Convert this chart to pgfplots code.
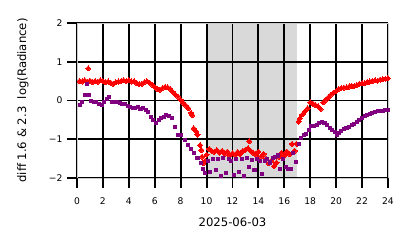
\documentclass[border=0pt]{standalone}
\usepackage{fontspec}
\setmainfont{DejaVu Sans}
\usepackage{pgfplots}
\pgfplotsset{compat=1.18}
\definecolor{mplpurple}{RGB}{128,0,128}
\pgfplotstableread{
h v
0.2 0.50
0.4 0.49
0.6 0.52
0.8 0.48
0.87 0.83
1.0 0.51
1.2 0.47
1.4 0.50
1.6 0.48
1.8 0.52
2.0 0.50
2.2 0.47
2.4 0.49
2.6 0.46
2.8 0.43
3.0 0.47
3.2 0.49
3.4 0.50
3.6 0.52
3.8 0.50
4.0 0.52
4.2 0.49
4.4 0.50
4.6 0.45
4.8 0.42
5.0 0.43
5.2 0.47
5.4 0.50
5.6 0.46
5.8 0.41
6.0 0.35
6.2 0.30
6.4 0.28
6.6 0.32
6.8 0.35
7.0 0.34
7.2 0.30
7.4 0.22
7.6 0.15
7.8 0.10
8.0 0.02
8.2 -0.06
8.4 -0.13
8.6 -0.20
8.8 -0.32
8.9 -0.38
9.0 -0.72
9.2 -0.80
9.3 -0.88
9.5 -1.15
9.6 -1.28
9.65 -1.45
9.75 -1.62
9.9 -1.55
10.0 -1.40
10.2 -1.25
10.4 -1.30
10.6 -1.33
10.8 -1.28
11.0 -1.35
11.2 -1.30
11.4 -1.38
11.6 -1.32
11.8 -1.42
12.0 -1.36
12.2 -1.40
12.4 -1.33
12.6 -1.38
12.8 -1.30
13.0 -1.27
13.2 -1.23
13.3 -1.05
13.4 -1.30
13.6 -1.35
13.8 -1.40
14.0 -1.32
14.2 -1.45
14.4 -1.38
14.6 -1.50
14.8 -1.62
15.0 -1.55
15.2 -1.70
15.4 -1.60
15.6 -1.45
15.8 -1.35
16.0 -1.42
16.2 -1.32
16.4 -1.38
16.6 -1.12
16.8 -1.30
16.95 -1.12
17.1 -0.55
17.2 -0.46
17.4 -0.36
17.6 -0.28
17.8 -0.20
18.0 -0.05
18.2 -0.08
18.4 -0.12
18.6 -0.15
18.8 -0.22
19.0 -0.05
19.2 0.02
19.4 0.08
19.6 0.15
19.8 0.20
20.0 0.24
20.2 0.30
20.4 0.32
20.6 0.33
20.8 0.34
21.0 0.36
21.2 0.38
21.4 0.37
21.6 0.40
21.8 0.43
22.0 0.45
22.2 0.44
22.4 0.47
22.6 0.49
22.8 0.50
23.0 0.52
23.2 0.51
23.4 0.54
23.6 0.55
23.8 0.56
24.0 0.57
}\redtab
\pgfplotstableread{
h v
0.2 -0.12
0.4 -0.05
0.6 0.15
0.8 0.42
0.9 0.14
1.1 -0.02
1.3 -0.03
1.5 -0.05
1.7 -0.08
1.9 -0.12
2.1 -0.05
2.3 0.05
2.5 0.08
2.7 -0.03
2.9 -0.04
3.1 -0.03
3.3 -0.06
3.5 -0.10
3.7 -0.08
3.9 -0.15
4.1 -0.18
4.3 -0.19
4.5 -0.20
4.7 -0.18
4.9 -0.22
5.1 -0.20
5.3 -0.24
5.5 -0.30
5.7 -0.42
5.9 -0.50
6.1 -0.57
6.3 -0.50
6.5 -0.46
6.7 -0.42
6.9 -0.38
7.1 -0.40
7.3 -0.46
7.55 -0.68
7.8 -0.88
8.05 -0.90
8.3 -1.02
8.55 -1.15
8.8 -1.25
9.05 -1.35
9.3 -1.49
9.55 -1.62
9.75 -1.78
9.9 -1.88
10.1 -1.55
10.3 -1.85
10.5 -1.50
10.7 -1.80
10.9 -1.52
11.1 -1.95
11.3 -1.48
11.5 -1.86
11.7 -1.50
11.9 -1.55
12.1 -1.92
12.3 -1.52
12.5 -1.85
12.7 -1.50
12.9 -1.95
13.1 -1.48
13.3 -1.72
13.5 -1.53
13.7 -1.80
13.9 -1.50
14.1 -1.55
14.3 -1.90
14.5 -1.55
14.7 -1.52
14.9 -1.60
15.1 -1.48
15.3 -1.45
15.5 -1.42
15.7 -1.78
15.9 -1.50
16.1 -1.72
16.3 -1.78
16.5 -1.76
16.7 -1.35
16.9 -1.58
17.1 -1.12
17.3 -0.98
17.5 -0.90
17.7 -0.86
17.9 -0.75
18.1 -0.66
18.3 -0.67
18.5 -0.63
18.7 -0.58
18.9 -0.55
19.1 -0.57
19.3 -0.64
19.5 -0.70
19.7 -0.75
19.9 -0.82
20.05 -0.90
20.2 -0.83
20.4 -0.78
20.6 -0.74
20.8 -0.70
21.0 -0.68
21.2 -0.63
21.4 -0.60
21.6 -0.55
21.8 -0.50
22.0 -0.45
22.2 -0.41
22.4 -0.38
22.6 -0.36
22.8 -0.33
23.0 -0.30
23.2 -0.28
23.4 -0.27
23.6 -0.26
23.8 -0.25
24.0 -0.24
}\purptab
\begin{document}
\begin{tikzpicture}
\begin{axis}[
  name=ax,
  set layers,
  scale only axis, width=223.9pt, height=111.6pt,
  xmin=0, xmax=24, ymin=-2, ymax=2,
  xtick={0,2,...,24}, ytick={-2,-1,0,1,2},
  yticklabels={−2,−1,0,1,2},
  grid=major, major grid style={black, line width=1.4pt},
  tick pos=left,
  tick align=outside, major tick length=7pt,
  tick style={black, line width=1.4pt},
  axis line style={gray!40, line width=0.6pt},
  ticklabel style={font=\fontsize{6.6}{7}\selectfont},
  xticklabel style={yshift=-3.5pt},
  /pgf/number format/assume math mode=true,
  xlabel={2025-06-03},
  ylabel={diff 1.6 \& 2.3\ \ log(Radiance)},
  label style={font=\fontsize{8.4}{10}\selectfont},
  xlabel style={at={(axis description cs:0.5,0)}, anchor=center, yshift=-31.7pt},
  ylabel style={at={(axis description cs:0,0.5)}, anchor=center, rotate=0, yshift=38.9pt},
]
\begin{pgfonlayer}{axis background}
\fill[gray!30] (axis cs:10,-2) rectangle (axis cs:17,2);
\end{pgfonlayer}
\addplot[only marks, mark=square*, mark size=1.3pt, color=red, mark options={rotate=45, line width=0pt}] table[x=h,y=v] {\redtab};
\addplot[only marks, mark=square*, mark size=1.1pt, color=mplpurple, mark options={line width=0pt}] table[x=h,y=v] {\purptab};
\end{axis}
\draw[black, line width=1.4pt]
  (ax.south west) -- ++(0,-7pt)
  ([xshift=18.66pt]ax.south west) -- ++(0,-7pt)
  ([xshift=37.32pt]ax.south west) -- ++(0,-7pt)
  ([xshift=55.98pt]ax.south west) -- ++(0,-7pt)
  ([xshift=74.63pt]ax.south west) -- ++(0,-7pt)
  ([xshift=93.29pt]ax.south west) -- ++(0,-7pt)
  ([xshift=111.95pt]ax.south west) -- ++(0,-7pt)
  ([xshift=130.61pt]ax.south west) -- ++(0,-7pt)
  ([xshift=149.27pt]ax.south west) -- ++(0,-7pt)
  ([xshift=167.93pt]ax.south west) -- ++(0,-7pt)
  ([xshift=186.58pt]ax.south west) -- ++(0,-7pt)
  ([xshift=205.24pt]ax.south west) -- ++(0,-7pt)
  (ax.south east) -- ++(0,-7pt)
  (ax.south west) -- ++(-7pt,0)
  ([yshift=27.9pt]ax.south west) -- ++(-7pt,0)
  ([yshift=55.8pt]ax.south west) -- ++(-7pt,0)
  ([yshift=83.7pt]ax.south west) -- ++(-7pt,0)
  (ax.north west) -- ++(-7pt,0);
\pgfresetboundingbox
\useasboundingbox ([shift={(-55.44pt,-50.4pt)}]ax.south west) rectangle ([shift={(242.64pt,128.16pt)}]ax.south west);
\end{tikzpicture}
\end{document}
